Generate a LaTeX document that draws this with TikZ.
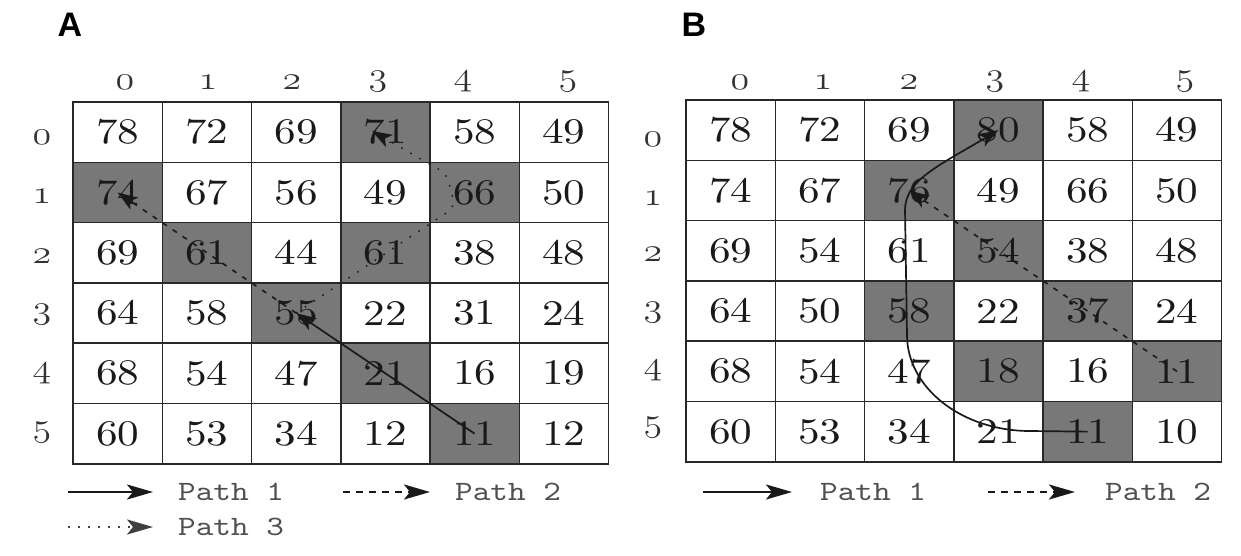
\RequirePackage{fix-cm}
\documentclass[tikz,border=0pt]{standalone}
\usepackage{fontspec}
\usepackage{graphicx}
\usetikzlibrary{arrows.meta}
\newfontfamily\headfont{Liberation Sans}
\newfontfamily\cellfont{lmroman10-regular}[Extension=.otf]
\newfontfamily\legfont{lmmono10-regular}[Extension=.otf]

\definecolor{shadecol}{RGB}{120,120,120}
\definecolor{gridcol}{RGB}{40,40,40}
\definecolor{legcol}{RGB}{80,80,80}

% cell size
\def\cw{89.25}
\def\ch{60.3}

% number inside a cell
\newcommand\cellnum[1]{\scalebox{1.2}[1]{\cellfont\fontsize{36}{36}\selectfont #1}}
% old-style index figures
\newcommand\idxnum[1]{\scalebox{1.15}[1]{\fontencoding{OML}\fontfamily{cmm}\fontseries{m}\fontshape{it}\fontsize{33}{33}\selectfont #1}}
% legend text
\newcommand\legtext[1]{\scalebox{1.2}[1]{\legfont\fontsize{28}{28}\selectfont #1}}

\tikzset{
  cell/.style={draw=gridcol, line width=1.5pt, rectangle, inner sep=0pt,
    minimum width=\cw pt, minimum height=\ch pt, text=black!90},
  shadecell/.style={fill=shadecol},
  idx/.style={inner sep=0pt, text=black!80},
  tiphead/.style={-{Stealth[length=20pt,width=14pt,inset=5pt]}},
  path1/.style={tiphead, line width=1.7pt, black!90},
  path2/.style={tiphead, line width=1.6pt, black!90, dash pattern=on 5pt off 7pt},
  path3/.style={tiphead, line width=1.5pt, black!90, dash pattern=on 1.5pt off 9pt},
  legtip/.style={-{Stealth[length=26pt,width=15pt,inset=6pt]}},
  leg1/.style={legtip, line width=2.6pt, black!90},
  leg2/.style={legtip, line width=2.6pt, black!90, dash pattern=on 7pt off 6pt},
  leg3/.style={legtip, line width=2.2pt, black!75, dash pattern=on 2pt off 8pt},
  legtxt/.style={anchor=west, inner sep=0pt, text=legcol},
  title/.style={inner sep=0pt, font=\headfont\bfseries\fontsize{34}{34}\selectfont},
}

% #1 name, #2 left, #3 top, #4 shaded cells r/c, #5 rows r/{values}
\newcommand\gridpanel[5]{%
  \foreach \r/\c in {#4} {
    \fill[shadecell] ({#2+\c*\cw},{#3+\r*\ch}) rectangle ({#2+(\c+1)*\cw},{#3+(\r+1)*\ch});
  }
  \foreach \r/\vals in {#5} {
    \foreach \v [count=\ci from 0] in \vals {
      \node[cell] (#1-\r-\ci) at ({#2+(\ci+0.5)*\cw},{#3+(\r+0.5)*\ch}) {\cellnum{\v}};
    }
  }
}

\begin{document}
\begin{tikzpicture}[x=1pt, y=-1pt]
\useasboundingbox (0,0) rectangle (1241,555);
\fill[white] (0,0) rectangle (1241,555);

% panel titles
\node[title] (tA) at (70,25) {A};
\node[title] (tB) at (694,25) {B};

% ---------- panel A ----------
\gridpanel{A}{73}{102}{0/3,1/0,1/4,2/1,2/3,3/2,4/3,5/4}{%
  0/{78,72,69,71,58,49},
  1/{74,67,56,49,66,50},
  2/{69,61,44,61,38,48},
  3/{64,58,55,22,31,24},
  4/{68,54,47,21,16,19},
  5/{60,53,34,12,11,12}}

\foreach \c/\x in {0/125,1/208,2/292,3/378,4/463,5/568}
  \node[idx] (Acol\c) at (\x,82) {\idxnum{\c}};
\foreach \r/\y in {0/137,1/196,2/256,3/315,4/374,5/433}
  \node[idx] (Arow\r) at (42,\y) {\idxnum{\r}};

% path 1: 11 -> 55
\draw[path1] (A-5-4.center) -- (A-3-2.center);
% path 2: 55 -> 74
\draw[path2] (A-3-2.center) -- (A-1-0.center);
% path 3: 55 -> 61 -> 66 -> 71
\coordinate (a3b1) at (455,207);
\coordinate (a3b2) at (447,174);
\coordinate (a3end) at (372,131);
\draw[path3, rounded corners=8pt] (A-3-2.center) -- (a3b1) -- (a3b2) -- (a3end);

% legend A
\coordinate (la1s) at (68,492);  \coordinate (la1e) at (153,492);
\coordinate (la2s) at (343,492); \coordinate (la2e) at (430,492);
\coordinate (la3s) at (68,527);  \coordinate (la3e) at (153,527);
\draw[leg1] (la1s) -- (la1e);
\draw[leg2] (la2s) -- (la2e);
\draw[leg3] (la3s) -- (la3e);
\node[legtxt] (la1t) at (178,492) {\legtext{Path 1}};
\node[legtxt] (la2t) at (455,492) {\legtext{Path 2}};
\node[legtxt] (la3t) at (178,527) {\legtext{Path 3}};

% ---------- panel B ----------
\gridpanel{B}{686}{100}{0/3,1/2,2/3,3/2,3/4,4/3,4/5,5/4}{%
  0/{78,72,69,80,58,49},
  1/{74,67,76,49,66,50},
  2/{69,54,61,54,38,48},
  3/{64,50,58,22,37,24},
  4/{68,54,47,18,16,11},
  5/{60,53,34,21,11,10}}

\foreach \c/\x in {0/740,1/823,2/909,3/995,4/1081,5/1185}
  \node[idx] (Bcol\c) at (\x,82) {\idxnum{\c}};
\foreach \r/\y in {0/139,1/198,2/254,3/313,4/371,5/428}
  \node[idx] (Brow\r) at (653,\y) {\idxnum{\r}};

% path 1: 11 -> 21 -> 47 -> 58 -> 61 -> 76 -> 80
\coordinate (b1a) at (1030,431);
\coordinate (b1b) at (907,335);
\coordinate (b1c) at (905,210);
\draw[path1] (B-5-4.center) -- (b1a)
  .. controls (962,431) and (907,388) .. (b1b)
  -- (b1c)
  .. controls (905,180) and (940,165) .. (B-0-3.center);
% path 2: 11 -> 37 -> 54 -> 76
\draw[path2] (B-4-5.center) -- (B-1-2.center);

% legend B
\coordinate (lb1s) at (703,492);  \coordinate (lb1e) at (792,492);
\coordinate (lb2s) at (988,492);  \coordinate (lb2e) at (1075,492);
\draw[leg1] (lb1s) -- (lb1e);
\draw[leg2] (lb2s) -- (lb2e);
\node[legtxt] (lb1t) at (820,492) {\legtext{Path 1}};
\node[legtxt] (lb2t) at (1105,492) {\legtext{Path 2}};
\end{tikzpicture}
\end{document}
